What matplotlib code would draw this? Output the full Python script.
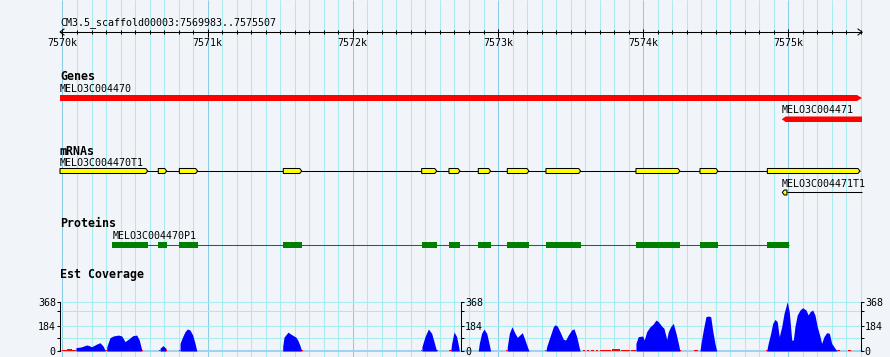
import matplotlib
matplotlib.use('Agg')
import matplotlib.pyplot as plt
from matplotlib.patches import Polygon

plt.rcParams['font.family'] = 'DejaVu Sans Mono'

# region shown
ref_name = 'CM3.5_scaffold00003'
view_start = 7569983
view_end = 7575507

# Genes track
gene_names = ['MELO3C004470', 'MELO3C004471']
gene_starts = [7569983, 7574954]
gene_ends = [7575507, 7575507]
gene_strands = [1, -1]

# mRNAs track
mrna_names = ['MELO3C004470T1', 'MELO3C004471T1']
mrna1_starts = [7569983, 7570660, 7570805, 7571521, 7572474, 7572662,
                7572864, 7573064, 7573330, 7573950, 7574391, 7574855]
mrna1_ends = [7570587, 7570718, 7570931, 7571648, 7572578, 7572738,
              7572949, 7573213, 7573569, 7574253, 7574515, 7575493]
mrna2_starts = [7574958]
mrna2_ends = [7574990]
mrna2_end = 7575507

# Proteins track
protein_name = 'MELO3C004470P1'
cds_starts = [7570343, 7570660, 7570805, 7571521, 7572474, 7572662,
              7572864, 7573064, 7573330, 7573950, 7574391, 7574855]
cds_ends = [7570587, 7570718, 7570931, 7571648, 7572578, 7572738,
            7572949, 7573213, 7573569, 7574253, 7574515, 7575002]

# Est coverage (blue part)
cov_pos = [
    7570093, 7570093, 7570128, 7570167, 7570178, 7570201, 7570236, 7570259, 7570281, 7570295,
    7570305, 7570305, 7570327, 7570350, 7570385, 7570408, 7570431, 7570453, 7570484, 7570511,
    7570529, 7570546, 7570546,
    7570672, 7570672, 7570692, 7570713, 7570713,
    7570810, 7570810, 7570828, 7570844, 7570860, 7570878, 7570897, 7570913, 7570925,
    7571517, 7571517, 7571526, 7571544, 7571555, 7571567, 7571588, 7571608, 7571622, 7571636,
    7571648,
    7572476, 7572476, 7572497, 7572520, 7572543, 7572559, 7572573, 7572578,
    7572674, 7572681, 7572697, 7572715, 7572731, 7572733,
    7572864, 7572871, 7572887, 7572903, 7572922, 7572938, 7572949,
    7573062, 7573064, 7573078, 7573096, 7573117, 7573133, 7573151, 7573167, 7573186, 7573202,
    7573213,
    7573330, 7573335, 7573358, 7573381, 7573392, 7573408, 7573427, 7573450, 7573466, 7573484,
    7573507, 7573523, 7573542, 7573558, 7573565,
    7573950, 7573950, 7573966, 7573996, 7574007, 7574024, 7574047, 7574069, 7574088, 7574104,
    7574127, 7574143, 7574162, 7574173, 7574189, 7574207, 7574226, 7574242, 7574253,
    7574391, 7574398, 7574414, 7574432, 7574448, 7574465, 7574478, 7574494, 7574506,
    7574850, 7574861, 7574878, 7574892, 7574908, 7574923, 7574937, 7574954, 7574970, 7574983,
    7574992, 7575006, 7575023, 7575034, 7575045, 7575061, 7575080, 7575098, 7575121, 7575137,
    7575149, 7575167, 7575183, 7575199, 7575218, 7575229, 7575245, 7575264, 7575282, 7575298,
    7575321, 7575335,
]
cov_val = [
    0, 25, 30, 45, 42, 32, 52, 62, 35, 0,
    0, 30, 99, 112, 119, 112, 70, 87, 114, 119,
    82, 8, 0,
    0, 20, 40, 20, 0,
    0, 57, 107, 144, 164, 157, 119, 57, 0,
    0, 35, 103, 128, 141, 130, 116, 103, 78, 40,
    0,
    0, 32, 107, 164, 132, 70, 15, 0,
    0, 57, 142, 107, 20, 0,
    0, 57, 132, 164, 132, 57, 0,
    0, 32, 132, 181, 132, 102, 120, 137, 82, 32,
    0,
    0, 32, 107, 181, 196, 186, 144, 87, 82, 119,
    157, 166, 107, 32, 0,
    0, 57, 107, 112, 82, 144, 181, 201, 231, 219,
    186, 169, 87, 144, 181, 206, 132, 57, 0,
    0, 57, 157, 256, 261, 256, 157, 57, 0,
    0, 57, 132, 206, 236, 219, 107, 181, 281, 331,
    368, 293, 82, 82, 181, 268, 306, 323, 306, 268,
    293, 306, 268, 181, 107, 57, 107, 137, 132, 57,
    20, 0,
]

# Est coverage (low part, red)
low_starts = [7569997, 7570031, 7570066, 7570293, 7570546, 7570665, 7570713, 7570803,
              7571648, 7572467, 7572578, 7572662, 7573053, 7573323, 7573585, 7573613,
              7573640, 7573675, 7573702, 7573785, 7573847, 7573916, 7574253, 7574350,
              7574846, 7575335, 7575410]
low_ends = [7570031, 7570066, 7570093, 7570305, 7570555, 7570672, 7570720, 7570810,
            7571657, 7572476, 7572586, 7572674, 7573062, 7573330, 7573599, 7573627,
            7573661, 7573689, 7573778, 7573840, 7573909, 7573950, 7574260, 7574377,
            7574850, 7575355, 7575431]
low_vals = [8, 18, 8, 6, 6, 6, 6, 6,
            6, 6, 6, 6, 6, 6, 4, 4,
            4, 5, 10, 13, 10, 8, 6, 6,
            6, 8, 6]

cov_max = 368
cov_major = [0, 184, 368]
cov_minor = [100, 300]

bg = '#f1f5fa'
grid_minor = '#a8ecf0'
grid_major = '#8ccbe8'
lw = 0.75

fig = plt.figure(figsize=(8.9, 3.57), dpi=100)
fig.patch.set_facecolor(bg)

# main panel: x in bp, y in pixel rows
ax = fig.add_axes([0, 0, 1, 1])
ax.set_facecolor(bg)
bpp = (view_end - view_start) / (862 - 60)
ax.set_xlim(view_start - 60 * bpp, view_start + 830 * bpp)
ax.set_ylim(357, 0)
ax.axis('off')

grid_pos = list(range(7570000, view_end + 1, 100))
minor_pos = [p for p in grid_pos if p % 1000]
major_pos = [p for p in grid_pos if p % 1000 == 0]
ax.vlines(minor_pos, 0, 357, color=grid_minor, lw=lw, zorder=0)
ax.vlines(major_pos, 0, 357, color=grid_major, lw=lw, zorder=0)


def arrow_shape(s, e, y0, y1, strand, tip, fc, ec='none'):
    ym = (y0 + y1) / 2
    if strand > 0:
        pts = [(s, y0), (e - tip, y0), (e, ym), (e - tip, y1), (s, y1)]
    else:
        pts = [(s, ym), (s + tip, y0), (e, y0), (e, y1), (s + tip, y1)]
    ax.add_patch(Polygon(pts, closed=True, facecolor=fc, edgecolor=ec,
                         lw=lw, zorder=3))


# ruler
ax.hlines(32, view_start, view_end, color='k', lw=lw, zorder=3)
ax.vlines(minor_pos, 30, 34, color='k', lw=lw, zorder=3)
ax.vlines(major_pos, 29, 37, color='k', lw=lw, zorder=3)
ax.plot([view_start + 4 * bpp, view_start, view_start + 4 * bpp], [29, 32, 35],
        color='k', lw=lw, zorder=3)
ax.plot([view_end - 4 * bpp, view_end, view_end - 4 * bpp], [29, 32, 35],
        color='k', lw=lw, zorder=3)
for p in major_pos:
    ax.text(p, 46, f'{p // 1000}k', ha='center', va='baseline', fontsize=7.2)
ax.text(view_start, 25, f'{ref_name}:{view_start}..{view_end}',
        va='baseline', fontsize=7.2)

# Genes
ax.text(view_start, 80.5, 'Genes', fontweight='bold', fontsize=8.4, va='baseline')
ax.text(gene_starts[0], 91.5, gene_names[0], fontsize=7.2, va='baseline')
arrow_shape(gene_starts[0], gene_ends[0], 95, 101, gene_strands[0], 5 * bpp, '#ff0000')
ax.text(gene_starts[1], 113.3, gene_names[1], fontsize=7.2, va='baseline')
arrow_shape(gene_starts[1], gene_ends[1], 116.5, 122, gene_strands[1], 4 * bpp, '#ff0000')

# mRNAs
ax.text(view_start, 155, 'mRNAs', fontweight='bold', fontsize=8.4, va='baseline')
ax.text(view_start, 166, mrna_names[0], fontsize=7.2, va='baseline')
ax.hlines(171, mrna1_starts[0], mrna1_ends[-1], color='k', lw=lw, zorder=2)
for s, e in zip(mrna1_starts, mrna1_ends):
    arrow_shape(s, e, 168.5, 173.5, 1, 2 * bpp, '#ffff00', 'k')
ax.text(gene_starts[1], 187.3, mrna_names[1], fontsize=7.2, va='baseline')
ax.hlines(192.3, mrna2_ends[-1], mrna2_end, color='k', lw=lw, zorder=2)
for s, e in zip(mrna2_starts, mrna2_ends):
    arrow_shape(s, e, 190, 195, -1, 2 * bpp, '#ffff00', 'k')

# Proteins
ax.text(view_start, 227.3, 'Proteins', fontweight='bold', fontsize=8.4, va='baseline')
ax.text(cds_starts[0], 239, protein_name, fontsize=7.2, va='baseline')
ax.hlines(244.5, cds_starts[0], cds_ends[-1], color='#008000', lw=lw, zorder=2)
ax.broken_barh([(s, e - s) for s, e in zip(cds_starts, cds_ends)], (242, 5.5),
               facecolor='#008000', zorder=3)

# Est Coverage
ax.text(view_start, 278.3, 'Est Coverage', fontweight='bold', fontsize=8.4, va='baseline')

b = (357 - 351) / 357
h = (351 - 301.7) / 357
cov = fig.add_axes([60 / 890, b, 802 / 890, h])
cov.patch.set_alpha(0)
cov.set_xlim(view_start, view_end)
cov.set_ylim(0, cov_max)
for v in cov_minor + cov_major[1:]:
    cov.axhline(v, color=grid_minor, lw=lw, clip_on=False, zorder=1)
cov.axhline(0, color='#9fd3ee', lw=1.5, clip_on=False, zorder=1)
cov.fill_between(cov_pos, cov_val, color='#0000ff', lw=0, zorder=3)
cov.bar(low_starts, low_vals, width=[e - s for s, e in zip(low_starts, low_ends)],
        align='edge', color='#ff0000', lw=0, zorder=3)


def scale_axis(a, side):
    for sp in a.spines.values():
        sp.set_visible(False)
    a.spines[side].set_visible(True)
    a.spines[side].set_linewidth(lw)
    a.set_xticks([])
    a.set_ylim(0, cov_max)
    a.set_yticks(cov_major)
    a.set_yticks(cov_minor, minor=True)
    a.yaxis.set_ticks_position(side)
    a.yaxis.set_label_position(side)
    a.tick_params(which='both', direction='out', length=2.2, width=lw,
                  labelsize=7.2, pad=0.8)


scale_axis(cov, 'left')
eps = 0.0005
mid = fig.add_axes([461 / 890 - eps, b, eps, h])
mid.patch.set_alpha(0)
scale_axis(mid, 'right')
right = fig.add_axes([860.7 / 890 - eps, b, eps, h])
right.patch.set_alpha(0)
scale_axis(right, 'right')

fig.savefig('out.png', dpi=100, facecolor=bg)
